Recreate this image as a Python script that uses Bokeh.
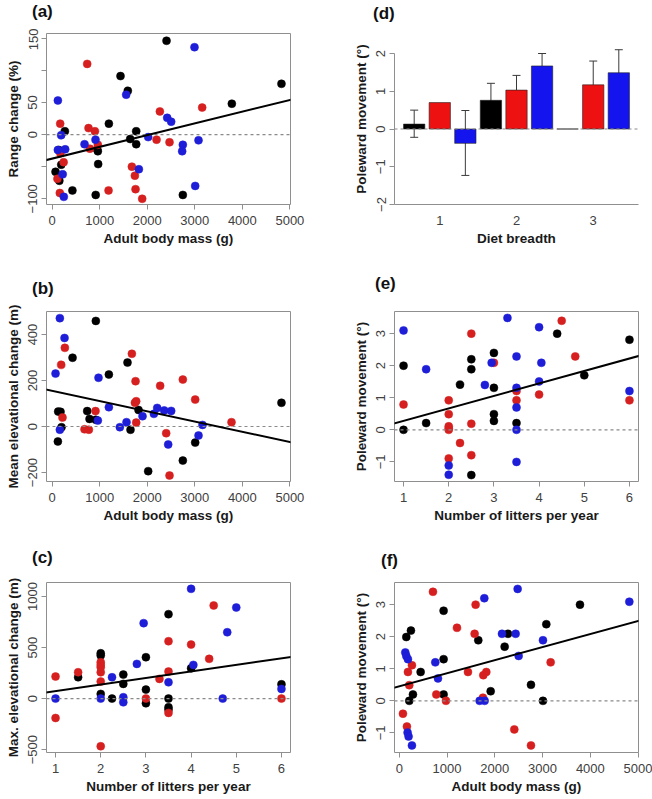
from bokeh.plotting import figure
from bokeh.layouts import column, row
from bokeh.models import (Range1d, FixedTicker, Span, Slope, Div,
                          ColumnDataSource, Whisker, TeeHead)
from bokeh.embed import file_html
from bokeh.resources import INLINE

FONT = "Liberation Sans"
AXC = "#8f8f8f"
TICKTXT = "#404040"
TITLETXT = "#1a1a1a"
DOT_BLACK = "#000000"
DOT_RED = "#D62020"
DOT_BLUE = "#1E1ED8"
BAR_RED = "#EE1111"
BAR_BLUE = "#1414EE"

# ---------------- data ----------------
# (a) Range change (%) vs adult body mass (g)
a_black_x = [2405, 1437, 1591, 4823, 3779, 1192, 266, 1767, 1640, 1767, 140, 946, 190, 967, 70, 150, 425, 915, 2748, 960]
a_black_y = [146, 91, 68, 79, 48, 17, 5, 5, -7, -15, -24, -23, -47, -46, -58, -72, -87, -94, -94, -26]
a_red_x = [736, 168, 764, 898, 960, 792, 172, 240, 110, 160, 1676, 1739, 1753, 1893, 1185, 2265, 3155, 2195, 2468]
a_red_y = [110, 17, 10, 5, -16, -22, -29, -43, -69, -91, -50, -64, -85, -100, -87, 36, 42, -8, -12]
a_blue_x = [2993, 119, 1556, 2419, 2503, 189, 2019, 911, 680, 3078, 2748, 2734, 119, 273, 220, 1823, 244, 3008]
a_blue_y = [136, 53, 62, 26, 20, -1, -4, -8, -15, -9, -16, -26, -24, -23, -62, -54, -97, -80]
fit_a = (-37.4, 0.01824)

# (b) Mean elevational change (m) vs adult body mass (g)
b_black_x = [918, 428, 1584, 1192, 4823, 1816, 3008, 2748, 2019, 126, 175, 196, 119, 736, 785, 918, 1647]
b_black_y = [459, 299, 278, 226, 103, 72, -70, -148, -194, 65, 64, -3, -65, 67, 33, 29, -14]
b_red_x = [266, 189, 1676, 1753, 2271, 2748, 3008, 1740, 1767, 3772, 2398, 2468, 217, 911, 680, 771, 1767]
b_red_y = [342, 268, 316, 197, 177, 204, 117, 103, 110, 19, -29, -213, 39, 67, -12, -14, 17]
b_blue_x = [161, 259, 70, 974, 1192, 1900, 2209, 2139, 2356, 2503, 3162, 3078, 2440, 161, 960, 1423, 1563]
b_blue_y = [471, 385, 230, 212, 84, 45, 81, 55, 70, 68, 7, -39, -78, -14, 26, -3, 19]
fit_b = (154.7, -0.0444)

# (c) Max. elevational change (m) vs number of litters per year
c_black_x = [1.5, 2, 2, 2, 2.25, 2.5, 2.5, 3, 3, 3, 3.5, 3.5, 3.5, 3.5, 4, 6]
c_black_y = [209, 444, 422, 46, 0, 235, 144, 405, 88, -46, 827, 0, -85, -110, 297, 140]
c_red_x = [1, 1, 1.5, 2, 2, 2, 2, 2, 2, 3, 3.3, 3.5, 3.5, 3.5, 4, 4.4, 4.5, 6]
c_red_y = [216, -190, 258, 356, 330, 307, 258, 167, -467, 0, 193, 562, 265, -140, 529, 389, 912, 0]
c_blue_x = [1, 2, 2.25, 2.5, 2.5, 2.8, 2.95, 3.5, 4, 4.05, 4.8, 5, 4.7, 6]
c_blue_y = [0, 0, 209, 13, -36, 340, 739, 160, 1075, 330, 650, 892, 0, 95]
fit_c = (9.7, 64.2)

# (d) Poleward movement by diet breadth (bar means with error bars)
diet_breadth = ["1", "2", "3"]
d_black = [0.13, 0.76, 0.0]
d_red = [0.70, 1.03, 1.17]
d_blue = [-0.38, 1.67, 1.49]
d_black_err = [(-0.22, 0.50), (0.31, 1.21), None]
d_red_err = [None, (0.63, 1.42), (0.55, 1.80)]
d_blue_err = [(-1.23, 0.49), (1.37, 2.00), (0.88, 2.10)]

# (e) Poleward movement vs number of litters per year
e_black_x = [1, 1, 1.5, 2.25, 2.5, 2.5, 2.5, 3, 3, 3, 3, 3.5, 4.4, 5, 6]
e_black_y = [2.0, 0, 0.21, 1.41, 2.2, 1.89, -1.41, 2.4, 1.31, 0.49, 0.28, 0.21, 3.0, 1.7, 2.81]
e_red_x = [1, 2, 2, 2, 2, 2, 2, 2.25, 2.5, 2.5, 2.5, 3, 3.5, 3.5, 4, 4.5, 4.8, 6]
e_red_y = [0.79, 0.92, 0.49, 0.11, 0.05, 0, -0.89, -0.41, 3.0, 0.19, -0.79, 2.09, 1.21, 0.92, 1.10, 3.4, 2.29, 0.92]
e_blue_x = [1, 1.5, 2, 2, 2.8, 2.95, 3.3, 3.5, 3.5, 3.5, 3.5, 3.5, 4, 4.05, 4, 6]
e_blue_y = [3.1, 1.89, -1.11, -1.4, 1.40, 2.09, 3.49, 2.29, 1.31, 0.70, 0, -1.0, 3.2, 2.09, 1.51, 1.21]
fit_e = (-0.11, 0.389)

# (f) Poleward movement vs adult body mass (g)
f_black_x = [928, 3783, 147, 244, 2276, 3078, 1654, 2206, 447, 928, 1913, 286, 209, 928, 2757, 3008]
f_black_y = [2.81, 3.0, 1.99, 2.19, 2.09, 2.39, 1.89, 1.69, 0.90, 1.30, 0.30, 0.20, 0.0, 0.20, 0.50, 0.0]
f_red_x = [705, 1598, 1208, 1577, 3169, 265, 181, 209, 1438, 1822, 1759, 775, 977, 1752, 77, 160, 2408, 2757]
f_red_y = [3.40, 3.0, 2.28, 2.09, 1.20, 1.11, 0.90, 0.49, 0.90, 0.90, 0.80, 0.20, 0.0, 0.10, -0.40, -0.80, -0.89, -1.39]
f_blue_x = [2478, 1780, 4816, 2150, 2436, 3008, 2499, 126, 147, 181, 754, 810, 1682, 1787, 174, 195, 265]
f_blue_y = [3.49, 3.20, 3.09, 2.09, 2.09, 1.89, 1.40, 1.51, 1.40, 1.30, 1.20, 0.70, 0.0, 0.0, -0.99, -1.11, -1.39]
fit_f = (0.455, 0.000407)

mass_ticks = [0, 1000, 2000, 3000, 4000, 5000]
litter_ticks = [1, 2, 3, 4, 5, 6]
pole_ticks = [-1, 0, 1, 2, 3]

# ---------------- layout ----------------
COL1 = dict(width=330, bl=46, br=40)
COL2 = dict(width=322, bl=64, br=14)
LET1 = 28   # strip holding the panel letters above each row of plots
LET2 = 33
LET3 = 33
ROW1 = dict(height=244, bt=5, bb=68)
ROW2 = dict(height=240, bt=6, bb=64)
ROW3 = dict(height=220, bt=4, bb=46)


def letter(text, width, height, left, top):
    html = ('<div style="padding-left:%dpx; padding-top:%dpx; font-family:\'%s\'; '
            'font-size:17px; font-weight:bold; line-height:1; color:#111111; '
            'white-space:nowrap;">%s</div>') % (left, top, FONT, text)
    return Div(text=html, width=width, height=height, margin=0)


def make_panel(col, rw, xr, yr, outline=True):
    p = figure(width=col["width"], height=rw["height"],
               x_range=Range1d(*xr), y_range=Range1d(*yr),
               output_backend="svg", toolbar_location=None,
               min_border_left=col["bl"], min_border_right=col["br"],
               min_border_top=rw["bt"], min_border_bottom=rw["bb"])
    p.xgrid.visible = False
    p.ygrid.visible = False
    p.background_fill_color = "white"
    p.border_fill_color = "white"
    p.outline_line_color = AXC if outline else None
    p.outline_line_width = 1
    for ax in (p.xaxis[0], p.yaxis[0]):
        ax.axis_line_color = None
        ax.major_tick_line_color = AXC
        ax.major_tick_in = 0
        ax.major_tick_out = 5
        ax.minor_tick_line_color = AXC
        ax.minor_tick_in = 0
        ax.minor_tick_out = 5
        ax.major_label_text_font = FONT
        ax.major_label_text_font_size = "13px"
        ax.major_label_text_color = TICKTXT
        ax.axis_label_text_font = FONT
        ax.axis_label_text_font_style = "bold"
        ax.axis_label_text_font_size = "13.5px"
        ax.axis_label_text_color = TITLETXT
    p.xaxis.major_label_standoff = 6
    p.xaxis.axis_label_standoff = 3
    p.yaxis.major_label_standoff = 4
    p.yaxis.axis_label_standoff = 5
    p.yaxis.major_label_orientation = "vertical"
    return p


def scatter_panel(col, rw, xr, yr, groups, fit, xticks, yticks, yminor,
                  xlabel, ylabel):
    p = make_panel(col, rw, xr, yr)
    for xs, ys, c in groups:
        p.scatter(xs, ys, size=8, fill_color=c, line_color=c, line_width=0.5)
    p.add_layout(Span(location=0, dimension="width", line_color="#8a8a8a",
                      line_dash="3 3", line_width=1.2))
    p.add_layout(Slope(y_intercept=fit[0], gradient=fit[1],
                       line_color="#000000", line_width=2))
    p.xaxis.ticker = FixedTicker(ticks=xticks)
    p.yaxis.ticker = FixedTicker(ticks=yticks, minor_ticks=yminor)
    p.xaxis.axis_label = xlabel
    p.yaxis.axis_label = ylabel
    return p


pa = scatter_panel(COL1, ROW1, (-120, 5013), (-108.9, 157.3),
                   [(a_black_x, a_black_y, DOT_BLACK), (a_red_x, a_red_y, DOT_RED),
                    (a_blue_x, a_blue_y, DOT_BLUE)],
                   fit_a, mass_ticks, [-100, 0, 50, 150], [-50, 100],
                   "Adult body mass (g)", "Range change (%)")

pb = scatter_panel(COL1, ROW2, (-120, 5013), (-239, 500),
                   [(b_black_x, b_black_y, DOT_BLACK), (b_red_x, b_red_y, DOT_RED),
                    (b_blue_x, b_blue_y, DOT_BLUE)],
                   fit_b, mass_ticks, [-200, 0, 200, 400], [],
                   "Adult body mass (g)", "Mean elevational change (m)")

pc = scatter_panel(COL1, ROW3, (0.8, 6.2), (-528, 1137),
                   [(c_black_x, c_black_y, DOT_BLACK), (c_red_x, c_red_y, DOT_RED),
                    (c_blue_x, c_blue_y, DOT_BLUE)],
                   fit_c, litter_ticks, [-500, 0, 500, 1000], [],
                   "Number of litters per year", "Max. elevational change (m)")

pe = scatter_panel(COL2, ROW2, (0.8, 6.2), (-1.61, 3.69),
                   [(e_black_x, e_black_y, DOT_BLACK), (e_red_x, e_red_y, DOT_RED),
                    (e_blue_x, e_blue_y, DOT_BLUE)],
                   fit_e, litter_ticks, pole_ticks, [],
                   "Number of litters per year", "Poleward movement (°)")

pf = scatter_panel(COL2, ROW3, (-100, 5008), (-1.61, 3.69),
                   [(f_black_x, f_black_y, DOT_BLACK), (f_red_x, f_red_y, DOT_RED),
                    (f_blue_x, f_blue_y, DOT_BLUE)],
                   fit_f, mass_ticks, pole_ticks, [],
                   "Adult body mass (g)", "Poleward movement (°)")

# ---- (d) bar chart ----
pd_ = make_panel(COL2, ROW1, (0.41, 3.59), (-2.0, 2.53), outline=False)
BW = 1 / 3.6
series = [(d_black, d_black_err, "#000000", -1), (d_red, d_red_err, BAR_RED, 0),
          (d_blue, d_blue_err, BAR_BLUE, 1)]
pd_.add_layout(Span(location=0, dimension="width", line_color="#8a8a8a",
                    line_dash="3 3", line_width=1.2))
for vals, errs, colr, off in series:
    xs = [i + 1 + off / 3 for i in range(len(diet_breadth))]
    pd_.vbar(x=xs, top=vals, bottom=0, width=BW, fill_color=colr,
             line_color="#222222", line_width=0.6)
    eb = [(x, e[0], e[1]) for x, e in zip(xs, errs) if e is not None]
    src = ColumnDataSource(dict(base=[t[0] for t in eb], lower=[t[1] for t in eb],
                                upper=[t[2] for t in eb]))
    pd_.add_layout(Whisker(source=src, base="base", lower="lower", upper="upper",
                           line_color="#3a3a3a", line_width=1,
                           upper_head=TeeHead(size=8, line_color="#3a3a3a", line_width=1),
                           lower_head=TeeHead(size=8, line_color="#3a3a3a", line_width=1)))
pd_.xaxis.ticker = FixedTicker(ticks=[1, 2, 3])
pd_.xaxis.major_label_overrides = {1: diet_breadth[0], 2: diet_breadth[1], 3: diet_breadth[2]}
pd_.xaxis.major_tick_line_color = None
pd_.xaxis.axis_line_color = AXC
pd_.yaxis.axis_line_color = AXC
pd_.yaxis.bounds = (-2, 2)
pd_.yaxis.ticker = FixedTicker(ticks=[-2, -1, 0, 1, 2])
pd_.xaxis.axis_label = "Diet breadth"
pd_.yaxis.axis_label = "Poleward movement (°)"

# panel letters
la = letter("(a)", COL1["width"], LET1, 32, 3)
ld = letter("(d)", COL2["width"], LET1, 43, 5)
lb = letter("(b)", COL1["width"], LET2, 32, 8)
le = letter("(e)", COL2["width"], LET2, 45, 3)
lc = letter("(c)", COL1["width"], LET3, 32, 4)
lf = letter("(f)", COL2["width"], LET3, 51, 7)

layout = column(row(la, ld), row(pa, pd_),
                row(lb, le), row(pb, pe),
                row(lc, lf), row(pc, pf))
open("out.html", "w").write(file_html(layout, INLINE))
